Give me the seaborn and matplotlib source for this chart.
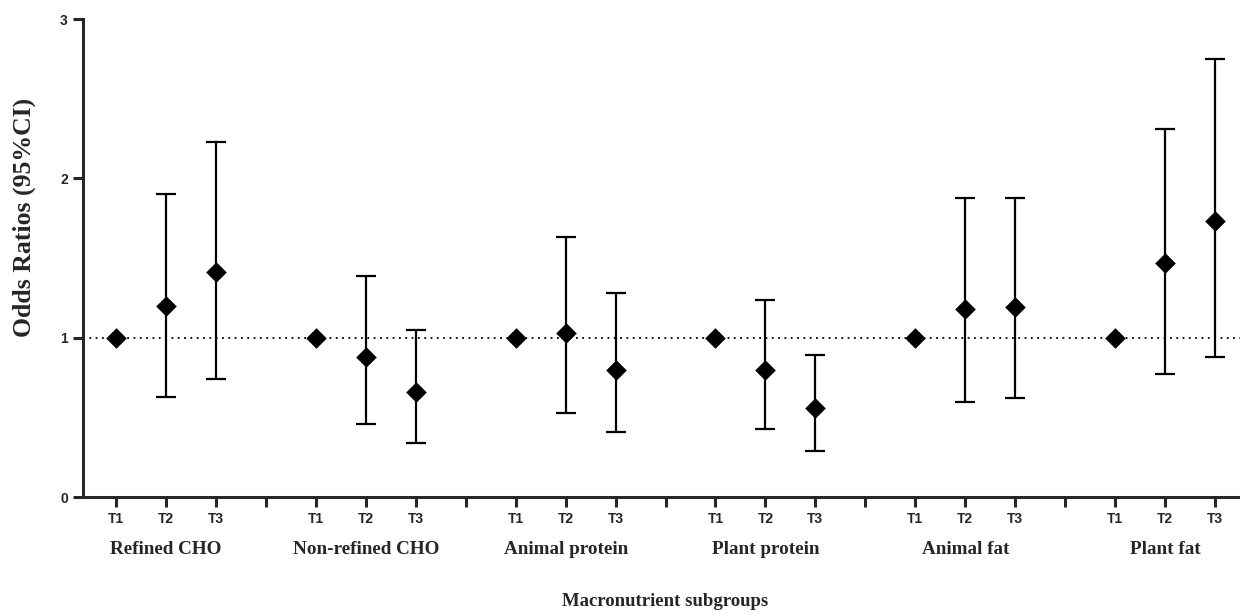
import numpy as np
import pandas as pd
import matplotlib

matplotlib.use("Agg")
import matplotlib.pyplot as plt
import seaborn as sns

# --- data ---
groups = ["Refined CHO", "Non-refined CHO", "Animal protein",
          "Plant protein", "Animal fat", "Plant fat"]
tertiles = ["T1", "T2", "T3"]

odds = [1.00, 1.20, 1.41,
        1.00, 0.88, 0.66,
        1.00, 1.03, 0.80,
        1.00, 0.80, 0.56,
        1.00, 1.18, 1.19,
        1.00, 1.47, 1.73]
ci_low = [1.00, 0.63, 0.74,
          1.00, 0.46, 0.34,
          1.00, 0.53, 0.41,
          1.00, 0.43, 0.29,
          1.00, 0.60, 0.62,
          1.00, 0.77, 0.88]
ci_high = [1.00, 1.90, 2.23,
           1.00, 1.39, 1.05,
           1.00, 1.63, 1.28,
           1.00, 1.24, 0.89,
           1.00, 1.88, 1.88,
           1.00, 2.31, 2.75]

# positions: 3 tertiles per group, one empty slot between groups
pos = [g * 4 + t + 1 for g in range(len(groups)) for t in range(3)]
df = pd.DataFrame({
    "group": np.repeat(groups, 3),
    "tertile": tertiles * len(groups),
    "pos": pos,
    "OR": odds,
    "lo": ci_low,
    "hi": ci_high,
})

sns.set_style("ticks")
plt.rcParams["font.family"] = ["Liberation Sans", "DejaVu Sans"]

fig = plt.figure(figsize=(12.4, 6.13), dpi=100)
ax = fig.add_axes([0.067, 0.189, 0.933, 0.780])

ax.axhline(1, color="black", linestyle=(0, (1, 2.5)), linewidth=1.3, zorder=1)

ci = df[df["tertile"] != "T1"]
ax.errorbar(ci["pos"], ci["OR"],
            yerr=[ci["OR"] - ci["lo"], ci["hi"] - ci["OR"]],
            fmt="none", ecolor="black", elinewidth=1.6, capsize=7,
            capthick=1.6, zorder=2)
sns.scatterplot(data=df, x="pos", y="OR", marker="D", s=110,
                color="black", edgecolor="black", linewidth=0,
                ax=ax, zorder=3, legend=False)

ax.set_ylim(0, 3)
ax.set_xlim(0.34, 23.5)
ax.set_yticks([0, 1, 2, 3])
ax.set_yticklabels(["0", "1", "2", "3"], fontweight="bold", fontsize=10)

all_ticks = list(range(1, 24))
ax.set_xticks(all_ticks)
ax.set_xticklabels(["" if t % 4 == 0 else tertiles[(t - 1) % 4]
                    for t in all_ticks], fontweight="bold", fontsize=10)

ax.tick_params(axis="both", length=7, width=2.2, direction="out", pad=4)
for side in ["left", "bottom"]:
    ax.spines[side].set_linewidth(2.2)
sns.despine(ax=ax)

for g, name in enumerate(groups):
    ax.text(g * 4 + 2, -0.11, name, transform=ax.get_xaxis_transform(),
            ha="center", va="center", fontsize=13.8, fontweight="bold",
            family="Liberation Serif")

ax.set_xlabel("")
fig.text(0.067 + 0.933 * (12 - 0.34) / (23.5 - 0.34), 0.018,
         "Macronutrient subgroups", ha="center", va="center",
         fontsize=13.5, fontweight="bold", family="Liberation Serif")
ax.set_ylabel("Odds Ratios (95%CI)", fontsize=18.5, fontweight="bold",
              family="Liberation Serif")
ax.yaxis.set_label_coords(-0.041, 0.586)

fig.savefig("out.png", dpi=100)
plt.close(fig)
